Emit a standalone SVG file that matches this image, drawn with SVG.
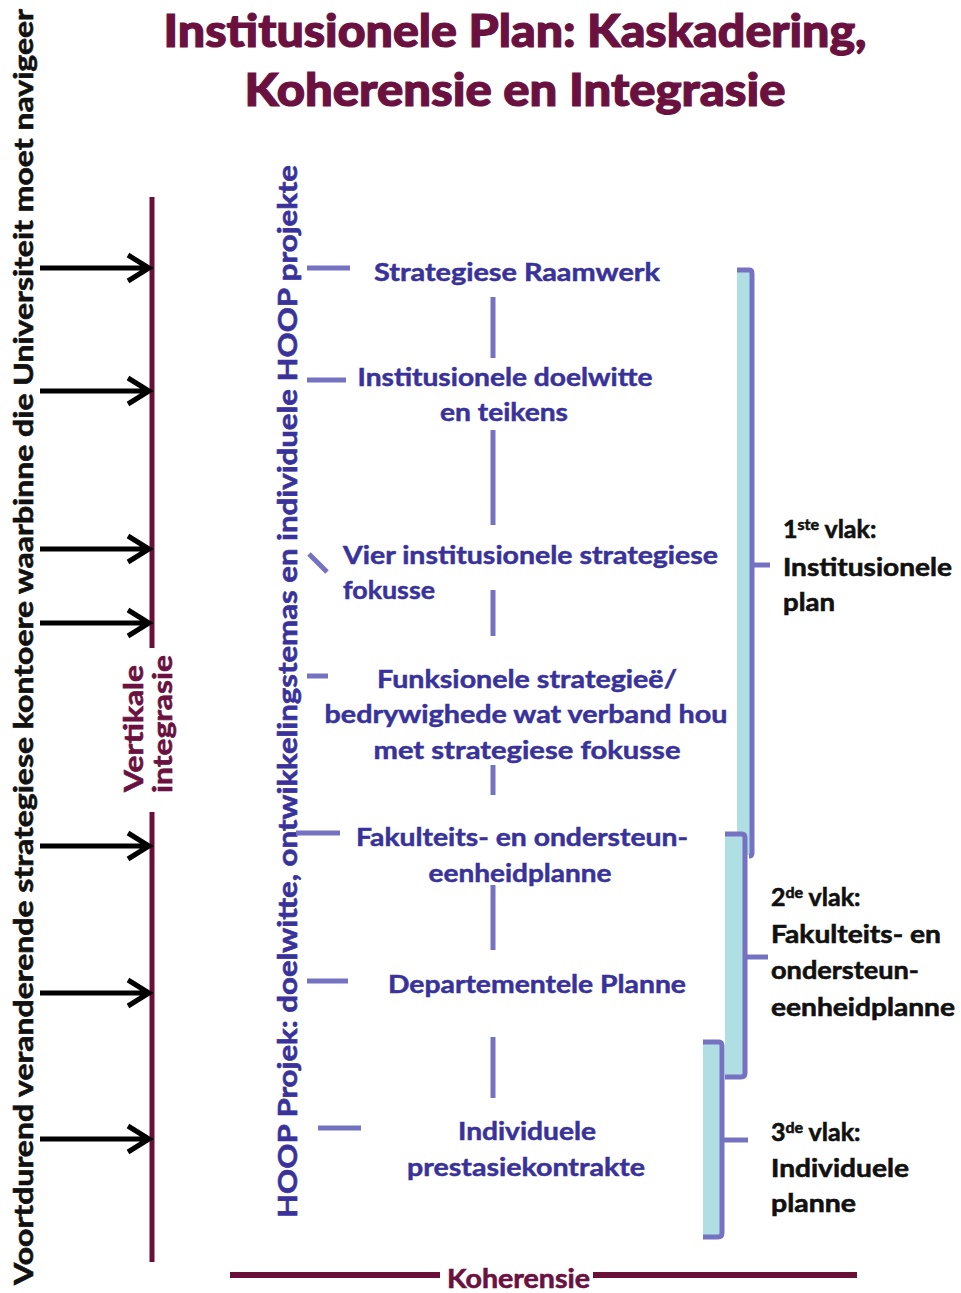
<svg xmlns="http://www.w3.org/2000/svg" width="961" height="1293" viewBox="0 0 961 1293">
<style>
.title{font-family:Lato,"Open Sans","Liberation Sans",sans-serif;font-weight:900;fill:#6a1140;stroke:#6a1140;stroke-width:1.2;font-size:46px;text-anchor:middle}
.node{font-family:Lato,"Liberation Sans",sans-serif;font-weight:700;fill:#38329a;stroke:#38329a;stroke-width:0.5;font-size:25px;text-anchor:middle}
.nodeL{font-family:Lato,"Liberation Sans",sans-serif;font-weight:700;fill:#38329a;stroke:#38329a;stroke-width:0.5;font-size:25px}
.lbl{font-family:Lato,"Liberation Sans",sans-serif;font-weight:700;fill:#111;stroke:#111;stroke-width:0.6;font-size:25px}
.side{font-family:Lato,"Liberation Sans",sans-serif;font-weight:700;font-size:26px;stroke-width:0.6}
.maroon{stroke:#6a1038;fill:none}
.tick{stroke:#7672c2;stroke-width:5;fill:none}
.arrow{stroke:#000;stroke-width:5;fill:none}
.fill{fill:#b0dfe3}
.brk{stroke:#7672c2;stroke-width:5;fill:none;stroke-linejoin:round}
</style>
<rect width="961" height="1293" fill="#fff"/>

<g id="title">
<text class="title" x="515" y="47" textLength="703" lengthAdjust="spacingAndGlyphs">Institusionele Plan: Kaskadering,</text>
<text class="title" x="515" y="106" textLength="541" lengthAdjust="spacingAndGlyphs">Koherensie en Integrasie</text>
</g>

<g id="left-label">
<text class="side" fill="#111" stroke="#111" transform="translate(33,1285) rotate(-90)" textLength="1276" lengthAdjust="spacingAndGlyphs">Voortdurend veranderende strategiese kontoere waarbinne die Universiteit moet navigeer</text>
</g>

<g id="vertical-integration">
<line class="maroon" x1="152" y1="197" x2="152" y2="648" stroke-width="5"/>
<line class="maroon" x1="152" y1="812" x2="152" y2="1262" stroke-width="5"/>
<text class="side" fill="#6a1140" stroke="#6a1140" transform="translate(143,792) rotate(-90)" textLength="127" lengthAdjust="spacingAndGlyphs">Vertikale</text>
<text class="side" fill="#6a1140" stroke="#6a1140" transform="translate(172,793) rotate(-90)" textLength="138" lengthAdjust="spacingAndGlyphs">integrasie</text>
</g>

<g id="hoop-label">
<text class="side" fill="#38329a" stroke="#38329a" transform="translate(297,1218) rotate(-90)" textLength="1053" lengthAdjust="spacingAndGlyphs">HOOP Projek: doelwitte, ontwikkelingstemas en individuele HOOP projekte</text>
</g>

<g id="connectors">
<g id="arrows">
<path class="arrow" d="M40 268H149M128 255L149 268L128 281"/>
<path class="arrow" d="M40 391H149M128 378L149 391L128 404"/>
<path class="arrow" d="M40 549H149M128 536L149 549L128 562"/>
<path class="arrow" d="M40 623H149M128 610L149 623L128 636"/>
<path class="arrow" d="M40 846H149M128 833L149 846L128 859"/>
<path class="arrow" d="M40 993H149M128 980L149 993L128 1006"/>
<path class="arrow" d="M40 1139H149M128 1126L149 1139L128 1152"/>
</g>
<g id="ticks">
<line class="tick" x1="307" y1="268" x2="350" y2="268"/>
<line class="tick" x1="307" y1="380" x2="346" y2="380"/>
<line class="tick" x1="309" y1="554" x2="327" y2="572"/>
<line class="tick" x1="307" y1="676" x2="328" y2="676"/>
<line class="tick" x1="296" y1="833" x2="340" y2="833"/>
<line class="tick" x1="307" y1="981" x2="348" y2="981"/>
<line class="tick" x1="318" y1="1128" x2="361" y2="1128"/>
</g>
<g id="spine">
<line class="tick" x1="493" y1="297" x2="493" y2="358"/>
<line class="tick" x1="493" y1="430" x2="493" y2="525"/>
<line class="tick" x1="493" y1="590" x2="493" y2="636"/>
<line class="tick" x1="493" y1="765" x2="493" y2="795"/>
<line class="tick" x1="493" y1="885" x2="493" y2="950"/>
<line class="tick" x1="493" y1="1037" x2="493" y2="1098"/>
</g>
<g id="coherence">
<line class="maroon" x1="230" y1="1275" x2="440" y2="1275" stroke-width="6"/>
<line class="maroon" x1="593" y1="1275" x2="857" y2="1275" stroke-width="6"/>
<text class="side" fill="#6a1140" stroke="#6a1140" x="447" y="1288" font-size="24" textLength="143" lengthAdjust="spacingAndGlyphs">Koherensie</text>
</g>
</g>

<g id="node-strategiese-raamwerk">
<text class="node" x="517" y="281" textLength="286" lengthAdjust="spacingAndGlyphs">Strategiese Raamwerk</text>
</g>
<g id="node-doelwitte">
<text class="node" x="505" y="386" textLength="295" lengthAdjust="spacingAndGlyphs">Institusionele doelwitte</text>
<text class="node" x="504" y="421" textLength="128" lengthAdjust="spacingAndGlyphs">en teikens</text>
</g>
<g id="node-fokusse">
<text class="nodeL" x="343" y="564" textLength="375" lengthAdjust="spacingAndGlyphs">Vier institusionele strategiese</text>
<text class="nodeL" x="343" y="599" textLength="92" lengthAdjust="spacingAndGlyphs">fokusse</text>
</g>
<g id="node-funksionele">
<text class="node" x="527" y="688" textLength="300" lengthAdjust="spacingAndGlyphs">Funksionele strategieë/</text>
<text class="node" x="526" y="723" textLength="403" lengthAdjust="spacingAndGlyphs">bedrywighede wat verband hou</text>
<text class="node" x="527" y="759" textLength="307" lengthAdjust="spacingAndGlyphs">met strategiese fokusse</text>
</g>
<g id="node-fakulteits">
<text class="node" x="522" y="846" textLength="332" lengthAdjust="spacingAndGlyphs">Fakulteits- en ondersteun-</text>
<text class="node" x="520" y="882" textLength="183" lengthAdjust="spacingAndGlyphs">eenheidplanne</text>
</g>
<g id="node-departementele">
<text class="node" x="537" y="993" textLength="298" lengthAdjust="spacingAndGlyphs">Departementele Planne</text>
</g>
<g id="node-individuele">
<text class="node" x="527" y="1140" textLength="138" lengthAdjust="spacingAndGlyphs">Individuele</text>
<text class="node" x="526" y="1176" textLength="238" lengthAdjust="spacingAndGlyphs">prestasiekontrakte</text>
</g>

<g id="bracket-1">
<rect class="fill" x="737" y="270" width="15" height="585"/>
<path class="brk" d="M737 270H750Q752 270 752 274V853Q752 856 749 856"/>
<line class="brk" x1="752" y1="565" x2="770" y2="565"/>
<text class="lbl" x="783" y="538">1<tspan font-size="16" dy="-8">ste</tspan><tspan dy="8"> vlak:</tspan></text>
<text class="lbl" x="783" y="576" textLength="169" lengthAdjust="spacingAndGlyphs">Institusionele</text>
<text class="lbl" x="783" y="611" textLength="52" lengthAdjust="spacingAndGlyphs">plan</text>
</g>
<g id="bracket-2">
<rect class="fill" x="725" y="835" width="19" height="241"/>
<path class="brk" d="M725 834H742Q745 834 745 838V1073Q745 1077 741 1077H725"/>
<line class="brk" x1="745" y1="957" x2="768" y2="957"/>
<text class="lbl" x="771" y="906">2<tspan font-size="16" dy="-8">de</tspan><tspan dy="8"> vlak:</tspan></text>
<text class="lbl" x="771" y="943" textLength="170" lengthAdjust="spacingAndGlyphs">Fakulteits- en</text>
<text class="lbl" x="771" y="979" textLength="148" lengthAdjust="spacingAndGlyphs">ondersteun-</text>
<text class="lbl" x="771" y="1016" textLength="184" lengthAdjust="spacingAndGlyphs">eenheidplanne</text>
</g>
<g id="bracket-3">
<rect class="fill" x="703" y="1043" width="19" height="193"/>
<path class="brk" d="M703 1042H719Q722 1042 722 1046V1233Q722 1237 718 1237H703"/>
<line class="brk" x1="722" y1="1140" x2="748" y2="1140"/>
<text class="lbl" x="771" y="1141">3<tspan font-size="16" dy="-8">de</tspan><tspan dy="8"> vlak:</tspan></text>
<text class="lbl" x="771" y="1177" textLength="138" lengthAdjust="spacingAndGlyphs">Individuele</text>
<text class="lbl" x="771" y="1212" textLength="85" lengthAdjust="spacingAndGlyphs">planne</text>
</g>
</svg>
